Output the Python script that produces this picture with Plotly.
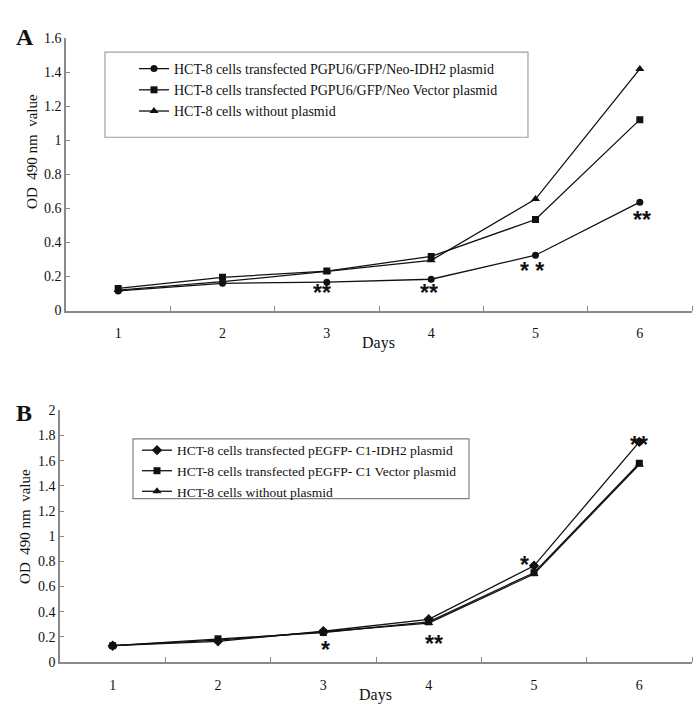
import plotly.graph_objects as go

days = [1, 2, 3, 4, 5, 6]

# Panel A
a_names = ["HCT-8 cells transfected PGPU6/GFP/Neo-IDH2 plasmid",
           "HCT-8 cells transfected PGPU6/GFP/Neo Vector plasmid",
           "HCT-8 cells without plasmid"]
a_idh2 = [0.115, 0.16, 0.167, 0.184, 0.325, 0.637]
a_vector = [0.13, 0.195, 0.232, 0.318, 0.535, 1.122]
a_none = [0.12, 0.17, 0.23, 0.295, 0.655, 1.42]
a_sig_days = [3, 4, 5, 6]
a_sig_text = ["**", "**", "* *", "**"]

# Panel B
b_names = ["HCT-8 cells transfected pEGFP- C1-IDH2 plasmid",
           "HCT-8 cells transfected pEGFP- C1 Vector plasmid",
           "HCT-8 cells without plasmid"]
b_idh2 = [0.13, 0.165, 0.245, 0.34, 0.765, 1.75]
b_vector = [0.13, 0.185, 0.235, 0.32, 0.71, 1.58]
b_none = [0.13, 0.175, 0.24, 0.31, 0.70, 1.57]
b_sig_days = [3, 4, 5, 6]
b_sig_text = ["*", "**", "*", "**"]

a_yticks = [0, 0.2, 0.4, 0.6, 0.8, 1, 1.2, 1.4, 1.6]
a_yticktext = ["0", "0.2", "0.4", "0.6", "0.8", "1", "1.2", "1.4", "1.6"]
b_yticks = [0, 0.2, 0.4, 0.6, 0.8, 1, 1.2, 1.4, 1.6, 1.8, 2]
b_yticktext = ["0", "0.2", "0.4", "0.6", "0.8", "1", "1.2", "1.4", "1.6", "1.8", "2"]

W, H = 698, 720
BLACK = "#111111"
AXC = "#8a8a8a"
SERIF = "Liberation Serif"
STAR = "Liberation Sans"

fig = go.Figure()

def add(x, y, name, symbol, size, xa, ya, legend):
    fig.add_trace(go.Scatter(
        x=x, y=y, name=name, mode="lines+markers",
        line=dict(color=BLACK, width=1.3),
        marker=dict(symbol=symbol, size=size, color=BLACK),
        xaxis=xa, yaxis=ya, legend=legend))

add(days, a_idh2, a_names[0], "circle", 7, "x", "y", "legend")
add(days, a_vector, a_names[1], "square", 7, "x", "y", "legend")
add(days, a_none, a_names[2], "triangle-up", 8, "x", "y", "legend")
add(days, b_idh2, b_names[0], "diamond", 8, "x2", "y2", "legend2")
add(days, b_vector, b_names[1], "square", 7, "x2", "y2", "legend2")
add(days, b_none, b_names[2], "triangle-up", 8, "x2", "y2", "legend2")

# significance stars (offsets in pixels from the IDH2 point)
a_lookup = dict(zip(days, a_idh2))
a_shift = {3: (-5, -11), 4: (-2, -14), 5: (-4, -16), 6: (2, -18)}
for d, t in zip(a_sig_days, a_sig_text):
    fig.add_annotation(x=d, y=a_lookup[d], xref="x", yref="y", text=t,
                       showarrow=False, xshift=a_shift[d][0], yshift=a_shift[d][1],
                       font=dict(family=STAR, size=23, color=BLACK, weight="bold"))
b_lookup = dict(zip(days, b_idh2))
b_shift = {3: (2, -19), 4: (5, -25), 5: (-10, 1), 6: (0, -3)}
for d, t in zip(b_sig_days, b_sig_text):
    fig.add_annotation(x=d, y=b_lookup[d], xref="x2", yref="y2", text=t,
                       showarrow=False, xshift=b_shift[d][0], yshift=b_shift[d][1],
                       font=dict(family=STAR, size=23, color=BLACK, weight="bold"))

def px(x):
    return x / W

def py(y):
    return 1 - y / H

xcommon = dict(range=[0.5, 6.5], tickvals=days, ticktext=[str(d) for d in days],
               ticks="", showline=True, linecolor=AXC, linewidth=1.5,
               showgrid=False, zeroline=False, ticklabelstandoff=9,
               tickfont=dict(family=SERIF, size=14, color=BLACK),
               minor=dict(tickvals=[1.5, 2.5, 3.5, 4.5, 5.5, 6.5], ticks="inside",
                          ticklen=5, tickcolor=AXC, tickwidth=1.2))
ycommon = dict(ticks="inside", ticklen=4, tickcolor=AXC, showline=True,
               linecolor=AXC, linewidth=1.5, showgrid=False, zeroline=False,
               tickfont=dict(family=SERIF, size=14, color=BLACK), ticklabelstandoff=0)

fig.update_layout(
    width=W, height=H, margin=dict(l=0, r=0, t=0, b=0),
    paper_bgcolor="white", plot_bgcolor="white", showlegend=True,
    xaxis=dict(domain=[px(66), px(692)], anchor="y", **xcommon),
    yaxis=dict(domain=[py(310), py(32)], anchor="x", range=[0, 1.6],
               tickvals=a_yticks, ticktext=a_yticktext, **ycommon),
    xaxis2=dict(domain=[px(60), px(692)], anchor="y2", **xcommon),
    yaxis2=dict(domain=[py(669), py(412)], anchor="x2", range=[0, 2],
                tickvals=b_yticks, ticktext=b_yticktext, **ycommon),
    legend=dict(x=px(134), y=py(47), xanchor="left", yanchor="top",
                bgcolor="rgba(0,0,0,0)", borderwidth=0,
                font=dict(family=SERIF, size=14, color=BLACK), tracegroupgap=0),
    legend2=dict(x=px(137), y=py(437), xanchor="left", yanchor="top",
                 bgcolor="rgba(0,0,0,0)", borderwidth=0,
                 font=dict(family=SERIF, size=13.5, color=BLACK), tracegroupgap=0),
)

# legend boxes
fig.add_shape(type="rect", xref="paper", yref="paper",
              x0=px(105), x1=px(528), y0=py(133), y1=py(46),
              line=dict(color="#a0a0a0", width=1.2))
fig.add_shape(type="rect", xref="paper", yref="paper",
              x0=px(133), x1=px(469), y0=py(502), y1=py(441),
              line=dict(color="#808080", width=1.2))

# panel labels and axis titles
for txt, x, y in [("A", 14, 31), ("B", 14, 415)]:
    fig.add_annotation(text=txt, x=px(x), y=py(y), xref="paper", yref="paper",
                       showarrow=False, xanchor="left", yanchor="middle",
                       font=dict(family=SERIF, size=24, color=BLACK, weight="bold"))
for x, y in [(32, 148), (25, 531)]:
    fig.add_annotation(text="OD  490 nm  value", x=px(x), y=py(y), xref="paper", yref="paper",
                       showarrow=False, textangle=-90, xanchor="center", yanchor="middle",
                       font=dict(family=SERIF, size=15, color=BLACK))
for x, y in [(378, 343), (375, 703)]:
    fig.add_annotation(text="Days", x=px(x), y=py(y), xref="paper", yref="paper",
                       showarrow=False, xanchor="center", yanchor="middle",
                       font=dict(family=SERIF, size=16, color=BLACK))

fig.write_html("out.html", config={"displayModeBar": False})

# remove the default page margin so the figure sits at the window origin
with open("out.html", "r", encoding="utf-8") as f:
    html = f.read()
html = html.replace("<head>", "<head><style>html,body{margin:0;padding:0;overflow:hidden;}</style>", 1)
with open("out.html", "w", encoding="utf-8") as f:
    f.write(html)
